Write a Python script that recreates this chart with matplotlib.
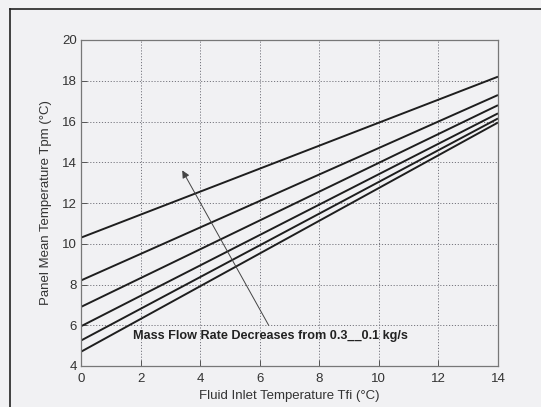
import matplotlib.pyplot as plt
from matplotlib.lines import Line2D

plt.rcParams["font.family"] = ["Liberation Sans", "DejaVu Sans"]

# fluid inlet temperature (end points of each straight line)
tfi = [0, 14]
# panel mean temperature, one list per mass flow rate (0.1 ... 0.3 kg/s)
tpm_1 = [10.3, 18.2]
tpm_2 = [8.2, 17.3]
tpm_3 = [6.9, 16.8]
tpm_4 = [5.95, 16.4]
tpm_5 = [5.25, 16.15]
tpm_6 = [4.7, 15.95]
series = [tpm_1, tpm_2, tpm_3, tpm_4, tpm_5, tpm_6]

xticks = [0, 2, 4, 6, 8, 10, 12, 14]
yticks = [4, 6, 8, 10, 12, 14, 16, 18, 20]

bg = "#f1f1f3"
fig = plt.figure(figsize=(5.41, 4.07), dpi=100, facecolor=bg)
ax = fig.add_axes([81 / 541, 1 - 366 / 407, 417 / 541, 326 / 407], facecolor=bg)

for s in series:
    ax.plot(tfi, s, color="#1e1e1e", lw=1.4, solid_capstyle="butt")

ax.set_xlim(0, 14)
ax.set_ylim(4, 20)
ax.set_xticks(xticks)
ax.set_yticks(yticks)
ax.grid(True, linestyle=(0, (1.2, 1.8)), color="#77777f", lw=0.7)
ax.tick_params(direction="in", length=4, width=0.7, color="#555555",
               labelsize=9.5, pad=3, labelcolor="#333333")
ax.tick_params(axis="x", pad=5)
for sp in ax.spines.values():
    sp.set_color("#777777")
    sp.set_linewidth(0.9)

ax.set_xlabel("Fluid Inlet Temperature Tfi (°C)", fontsize=9.5, color="#333333", labelpad=4)
ax.set_ylabel("Panel Mean Temperature Tpm (°C)", fontsize=9.5, color="#333333", labelpad=7)

ax.annotate("", xy=(3.4, 13.6), xytext=(6.3, 6.0),
            arrowprops=dict(arrowstyle="-|>", color="#444444", lw=0.7,
                            mutation_scale=11, shrinkA=0, shrinkB=0))
ax.text(1.75, 5.45, "Mass Flow Rate Decreases from 0.3__0.1 kg/s",
        fontsize=9.1, fontweight="bold", color="#222222", va="center", ha="left")

# outer frame of the scanned figure
fig.add_artist(Line2D([10 / 541, 1.0], [1 - 9 / 407] * 2, color="#222222", lw=1.2,
                      transform=fig.transFigure))
fig.add_artist(Line2D([10 / 541] * 2, [0, 1 - 9 / 407], color="#222222", lw=1.2,
                      transform=fig.transFigure))

fig.savefig("out.png", dpi=100, facecolor=bg)
